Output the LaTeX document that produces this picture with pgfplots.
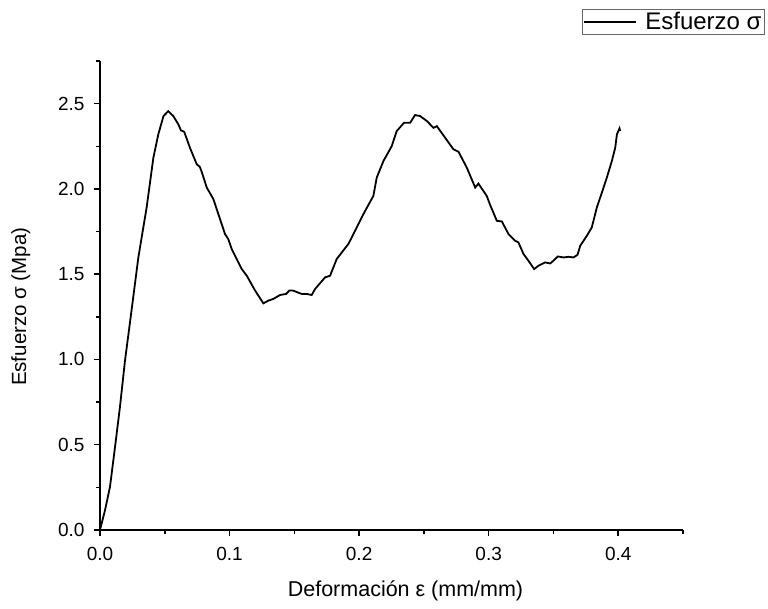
\documentclass[border=0pt]{standalone}
\usepackage{fontspec}
\setmainfont{Liberation Sans}
\usepackage{pgfplots}
\pgfplotsset{compat=1.18}
\begin{document}
\begin{tikzpicture}[x=1pt,y=1pt]
\path[use as bounding box] (0,0) rectangle (768,608);
\begin{axis}[
  at={(100pt,78pt)}, anchor=south west,
  scale only axis, width=583pt, height=469pt,
  xmin=0, xmax=0.45, ymin=0, ymax=2.75,
  axis x line*=bottom, axis y line*=left,
  axis line style={line width=1.5pt},
  xtick={0,0.1,0.2,0.3,0.4},
  minor xtick={0.05,0.15,0.25,0.35,0.45},
  ytick={0,0.5,1,1.5,2,2.5},
  minor ytick={0.25,0.75,1.25,1.75,2.25,2.75},
  xticklabels={0.0,0.1,0.2,0.3,0.4},
  yticklabels={0.0,0.5,1.0,1.5,2.0,2.5},
  tick align=outside,
  major tick length=6pt, minor tick length=4pt,
  every tick/.style={line width=1.5pt, black},
  /pgf/number format/assume math mode=true,
  tick label style={font=\fontsize{19}{22}\selectfont},
  xticklabel style={yshift=-8pt},
  yticklabel style={xshift=-6pt},
  xlabel={Deformación ε (mm/mm)},
  ylabel={Esfuerzo σ (Mpa)},
  xlabel style={font=\fontsize{21.5}{25}\selectfont, at={(axis description cs:0.524,0)}, anchor=base, yshift=-66pt},
  ylabel style={font=\fontsize{20.5}{24}\selectfont, at={(axis description cs:0,0.476)}, anchor=south, yshift=66pt},
  legend style={at={(1.1405,1.111)}, anchor=north east, draw=black!60, line width=0.8pt,
    font=\fontsize{24}{27}\selectfont, inner xsep=1pt, inner ysep=1pt},
  legend image code/.code={\draw[line width=1.5pt] (0pt,0pt) -- (52pt,0pt); \path (58pt,0pt);},
  clip=false,
]
\addplot[black, line width=1.8pt] coordinates {
(0,0) (0.0039,0.117) (0.0077,0.253) (0.0116,0.487) (0.0154,0.721) (0.0193,0.994)
(0.0232,1.22) (0.0296,1.598) (0.036,1.891) (0.0412,2.183) (0.045,2.32) (0.049,2.427)
(0.0527,2.456) (0.0566,2.427) (0.0605,2.378) (0.0625,2.343) (0.065,2.335) (0.0695,2.24)
(0.0747,2.144) (0.077,2.13) (0.0785,2.10) (0.0824,2.008) (0.0875,1.94) (0.0965,1.735)
(0.099,1.706) (0.1017,1.647) (0.1094,1.53) (0.1133,1.491) (0.1197,1.404) (0.1261,1.329)
(0.130,1.345) (0.1338,1.355) (0.139,1.378) (0.1436,1.384) (0.1462,1.404) (0.149,1.404)
(0.1557,1.384) (0.1596,1.384) (0.1634,1.378) (0.166,1.413) (0.1737,1.481) (0.1776,1.491)
(0.1827,1.589) (0.1917,1.677) (0.1956,1.735) (0.2033,1.852) (0.211,1.959) (0.2136,2.066)
(0.2188,2.164) (0.2252,2.251) (0.229,2.339) (0.2347,2.388) (0.2394,2.388) (0.2432,2.433)
(0.2471,2.427) (0.2523,2.398) (0.2574,2.358) (0.26,2.368) (0.2664,2.3) (0.2728,2.232)
(0.2767,2.218) (0.2831,2.125) (0.2896,2.008) (0.2921,2.031) (0.2985,1.959) (0.3012,1.905)
(0.3063,1.813) (0.3102,1.809) (0.3153,1.735) (0.3205,1.696) (0.323,1.686) (0.3269,1.618)
(0.3307,1.579) (0.3351,1.53) (0.3385,1.55) (0.3436,1.569) (0.3475,1.563) (0.35,1.579)
(0.3534,1.604) (0.3578,1.598) (0.3616,1.602) (0.3655,1.598) (0.3686,1.614) (0.3707,1.667)
(0.3758,1.725) (0.3796,1.774) (0.3835,1.891) (0.3874,1.979) (0.3912,2.066) (0.3951,2.164)
(0.3977,2.242) (0.399,2.32) (0.401,2.355) (0.4015,2.34)
};
\addlegendentry{Esfuerzo σ}
\end{axis}
\end{tikzpicture}
\end{document}
